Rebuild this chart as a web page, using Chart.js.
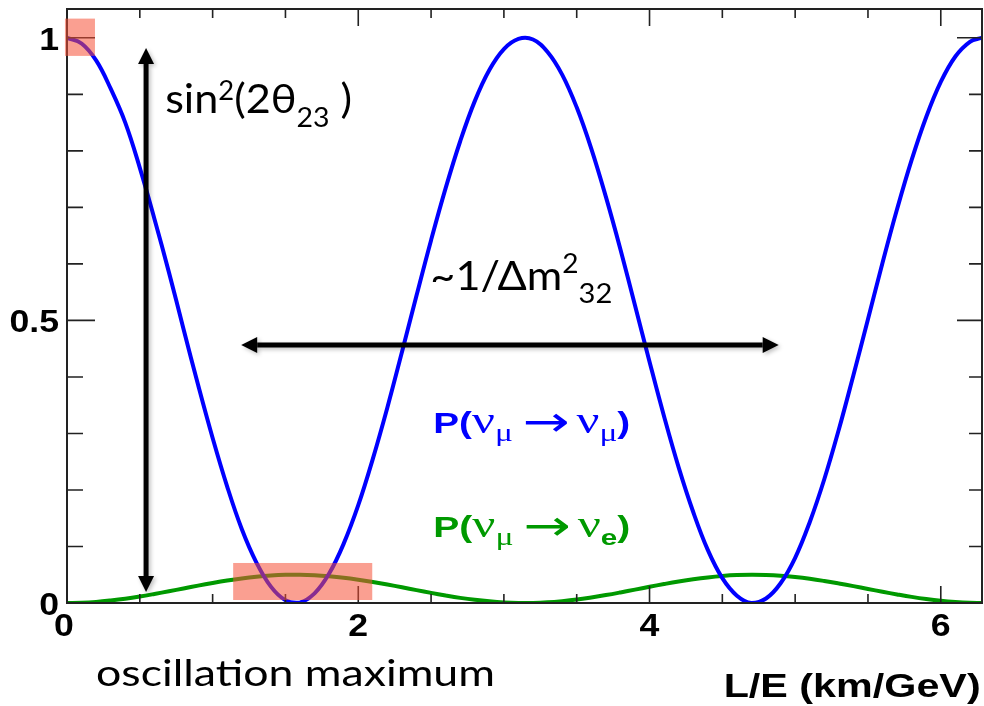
<!DOCTYPE html>
<html>
<head>
<meta charset="utf-8">
<title>Muon neutrino oscillation vs L/E</title>
<script src="https://cdn.jsdelivr.net/npm/chart.js@4.4.1/dist/chart.umd.min.js"></script>
<style>
  html, body { margin: 0; padding: 0; background: #fff; }
</style>
</head>
<body>
<canvas id="myChart" width="984" height="706"></canvas>
<script>
// L/E samples (km/GeV) and the two probabilities read at each one
const lOverE = [0, 0.1, 0.2, 0.3, 0.4, 0.5, 0.6, 0.7, 0.8, 0.9,
                1.0, 1.1, 1.2, 1.3, 1.4, 1.5, 1.6, 1.7, 1.8, 1.9,
                2.0, 2.1, 2.2, 2.3, 2.4, 2.5, 2.6, 2.7, 2.8, 2.9,
                3.0, 3.1, 3.2, 3.3, 3.4, 3.5, 3.6, 3.7, 3.8, 3.9,
                4.0, 4.1, 4.2, 4.3, 4.4, 4.5, 4.6, 4.7, 4.8, 4.9,
                5.0, 5.1, 5.2, 5.3, 5.4, 5.5, 5.6, 5.7, 5.8, 5.9,
                6.0, 6.1, 6.2, 6.28];

const pMuMu = [1.00, 0.99, 0.96, 0.91, 0.85, 0.77, 0.68, 0.585, 0.485, 0.386,
               0.292, 0.206, 0.131, 0.072, 0.029, 0.005, 0.001, 0.017, 0.052, 0.105,
               0.173, 0.255, 0.346, 0.444, 0.544, 0.642, 0.734, 0.817, 0.888, 0.943,
               0.980, 0.998, 0.997, 0.975, 0.935, 0.877, 0.804, 0.719, 0.626, 0.527,
               0.427, 0.330, 0.240, 0.161, 0.094, 0.044, 0.013, 0.000, 0.008, 0.035,
               0.080, 0.143, 0.219, 0.307, 0.403, 0.502, 0.602, 0.697, 0.784, 0.860,
               0.922, 0.967, 0.993, 1.00];

const pMuE = [0, 0.0005, 0.002, 0.0045, 0.0076, 0.0115, 0.016, 0.0208, 0.0257, 0.0307,
              0.0354, 0.0397, 0.0434, 0.0464, 0.0486, 0.0498, 0.05, 0.0492, 0.0474, 0.0448,
              0.0413, 0.0372, 0.0327, 0.0278, 0.0228, 0.0179, 0.0133, 0.0091, 0.0056, 0.0029,
              0.001, 0.0001, 0.0001, 0.0012, 0.0033, 0.0061, 0.0098, 0.014, 0.0187, 0.0237,
              0.0287, 0.0335, 0.038, 0.042, 0.0453, 0.0478, 0.0494, 0.05, 0.0496, 0.0483,
              0.046, 0.0429, 0.039, 0.0346, 0.0299, 0.0249, 0.0199, 0.0152, 0.0108, 0.007,
              0.0039, 0.0017, 0.0003, 0];

const xTickLabels = [0, 2, 4, 6];
const yTickLabels = [0, 0.5, 1];

const X_MAX = 6.283;
const Y_MAX = 1.051;

const BLUE = "#0000ff";
const GREEN = "#009900";

// ROOT-like frame: inward ticks on all four sides, bold labels
const TICK_FONT = "bold 31px 'Liberation Sans'";
const TICK_STRETCH = 1.15;

// highlight boxes (data coords)
const boxes = [
  { x0: -0.014, x1: 0.192, y0: 1.034, y1: 0.968 },
  { x0: 1.141, x1: 2.096, y0: 0.0708, y1: 0.0053 }
];

// arrows (data coords)
const arrows = [
  { x0: 0.543, y0: 0.982, x1: 0.543, y1: 0.0195 },
  { x0: 1.196, y0: 0.4566, x1: 4.887, y1: 0.4566 }
];

// text blocks, x/y in data coords, w = width in px; parts are [text, font, dy]
const SERIF = "'Liberation Serif'";
const probParts = (sub, subFont) => [
  ["P(", "bold 29px 'Liberation Sans'"], ["\u03bd", "38px " + SERIF],
  ["\u03bc", "25px " + SERIF, 8], [" ", "30px " + SERIF],
  ["\u2192", "42px 'DejaVu Sans'", 3], [" ", "20px " + SERIF],
  ["\u03bd", "38px " + SERIF], [sub, subFont, 8],
  [")", "bold 29px 'Liberation Sans'"]
];
const notes = [
  { x: 0.674, y: 0.867, w: 187, color: "#000", parts: [
    ["sin", "41px Lato"], ["2", "26px Lato", -13], ["(2\u03b8", "41px Lato"],
    ["23", "27px Lato", 14], [" )", "41px Lato"] ] },
  { x: 2.495, y: 0.554, w: 182, color: "#000", parts: [
    ["~1/\u0394m", "40px Lato"], ["2", "26px Lato", -17], ["32", "27px Lato", 13] ] },
  { x: 2.515, y: 0.301, w: 197, color: BLUE,
    parts: probParts("\u03bc", "25px " + SERIF) },
  { x: 2.515, y: 0.117, w: 197, color: GREEN,
    parts: probParts("e", "bold 22px 'Liberation Sans'") },
  { x: 0.199, y: -0.147, w: 399, color: "#000", parts: [
    ["oscillation maximum", "37px Lato"] ] },
  { x: 4.509, y: -0.1664, w: 257, color: "#000", parts: [
    ["L/E (km/GeV)", "bold 33px 'Liberation Sans'"] ] }
];

function drawParts(ctx, x, y, w, parts) {
  let total = 0;
  for (const [t, font] of parts) {
    ctx.font = font;
    total += ctx.measureText(t).width;
  }
  ctx.save();
  ctx.translate(x, y);
  ctx.scale(w / total, 1);
  let cx = 0;
  for (const [t, font, dy] of parts) {
    ctx.font = font;
    ctx.fillText(t, cx, dy || 0);
    cx += ctx.measureText(t).width;
  }
  ctx.restore();
}

function drawArrow(ctx, x0, y0, x1, y1) {
  const len = Math.hypot(x1 - x0, y1 - y0);
  const ux = (x1 - x0) / len, uy = (y1 - y0) / len;
  const hl = 16, hw = 8;
  ctx.beginPath();
  ctx.moveTo(x0 + ux * hl, y0 + uy * hl);
  ctx.lineTo(x1 - ux * hl, y1 - uy * hl);
  ctx.lineWidth = 5;
  ctx.stroke();
  for (const [tx, ty, dx, dy] of [[x0, y0, ux, uy], [x1, y1, -ux, -uy]]) {
    ctx.beginPath();
    ctx.moveTo(tx, ty);
    ctx.lineTo(tx + dx * hl - dy * hw, ty + dy * hl + dx * hw);
    ctx.lineTo(tx + dx * hl + dy * hw, ty + dy * hl - dx * hw);
    ctx.closePath();
    ctx.fill();
  }
}

function stretchedText(ctx, t, x, y, sx) {
  ctx.save();
  ctx.translate(x, y);
  ctx.scale(sx, 1);
  ctx.fillText(t, 0, 0);
  ctx.restore();
}

const frameAndNotes = {
  id: "frameAndNotes",
  afterDatasetsDraw(chart) {
    const { ctx, chartArea: a, scales: { x, y } } = chart;
    ctx.save();

    // frame
    ctx.strokeStyle = "#222";
    ctx.lineWidth = 2;
    ctx.strokeRect(a.left, a.top, a.right - a.left, a.bottom - a.top);

    // ticks
    ctx.lineWidth = 1.6;
    ctx.beginPath();
    for (let v = 0; v < X_MAX; v += 0.5) {
      const px = x.getPixelForValue(v);
      const len = xTickLabels.includes(v) ? 17 : 9;
      ctx.moveTo(px, a.bottom); ctx.lineTo(px, a.bottom - len);
      ctx.moveTo(px, a.top); ctx.lineTo(px, a.top + len);
    }
    for (let i = 1; i <= 10; i++) {
      const v = i / 10;
      const py = y.getPixelForValue(v);
      const major = yTickLabels.includes(v);
      ctx.moveTo(a.left, py); ctx.lineTo(a.left + (major ? 28 : 16), py);
      ctx.moveTo(a.right, py); ctx.lineTo(a.right - (major ? 25 : 13), py);
    }
    ctx.stroke();

    // tick labels
    ctx.fillStyle = "#000";
    ctx.font = TICK_FONT;
    ctx.textBaseline = "alphabetic";
    ctx.textAlign = "center";
    for (const v of xTickLabels) {
      const dx = v === 0 ? -3 : 0;
      stretchedText(ctx, String(v), x.getPixelForValue(v) + dx, a.bottom + 33, TICK_STRETCH);
    }
    ctx.textAlign = "right";
    for (const v of yTickLabels) {
      stretchedText(ctx, String(v), a.left - 8, y.getPixelForValue(v) + 12, TICK_STRETCH);
    }

    // highlight boxes
    ctx.fillStyle = "rgba(245, 80, 55, 0.55)";
    for (const b of boxes) {
      const px0 = x.getPixelForValue(b.x0), px1 = x.getPixelForValue(b.x1);
      const py0 = y.getPixelForValue(b.y0), py1 = y.getPixelForValue(b.y1);
      ctx.fillRect(px0, py0, px1 - px0, py1 - py0);
    }

    // arrows with a faint drop shadow
    ctx.fillStyle = "#000";
    ctx.strokeStyle = "#000";
    ctx.shadowColor = "rgba(0,0,0,0.25)";
    ctx.shadowBlur = 4;
    ctx.shadowOffsetX = 2;
    ctx.shadowOffsetY = 2;
    for (const r of arrows) {
      drawArrow(ctx, x.getPixelForValue(r.x0), y.getPixelForValue(r.y0),
                x.getPixelForValue(r.x1), y.getPixelForValue(r.y1));
    }
    ctx.shadowColor = "transparent";

    // labels
    ctx.textAlign = "left";
    for (const n of notes) {
      ctx.fillStyle = n.color;
      drawParts(ctx, x.getPixelForValue(n.x), y.getPixelForValue(n.y), n.w, n.parts);
    }
    ctx.restore();
  }
};

new Chart("myChart", {
  type: "line",
  data: {
    datasets: [{
      data: lOverE.map((v, i) => ({ x: v, y: pMuMu[i] })),
      borderColor: BLUE,
      borderWidth: 4,
      tension: 0.4,
      fill: false
    }, {
      data: lOverE.map((v, i) => ({ x: v, y: pMuE[i] })),
      borderColor: GREEN,
      borderWidth: 4,
      tension: 0.4,
      fill: false
    }]
  },
  options: {
    responsive: false,
    animation: false,
    layout: { padding: { left: 67, top: 9, right: 2, bottom: 103 } },
    elements: { point: { radius: 0 } },
    plugins: { legend: { display: false }, tooltip: { enabled: false } },
    scales: {
      x: { type: "linear", min: 0, max: X_MAX, display: false },
      y: { min: 0, max: Y_MAX, display: false }
    }
  },
  plugins: [frameAndNotes]
});
</script>
</body>
</html>
